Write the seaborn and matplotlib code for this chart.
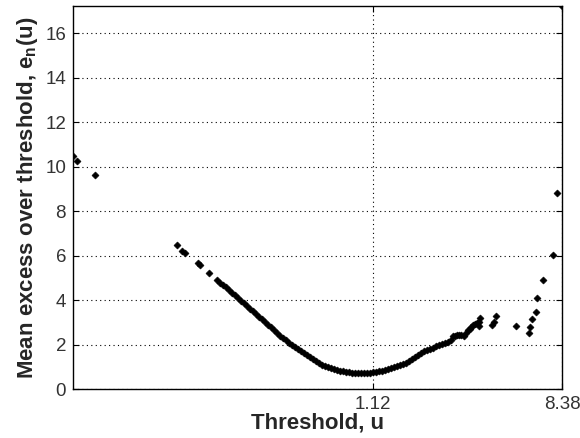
import matplotlib
matplotlib.use("Agg")
import matplotlib.pyplot as plt
import seaborn as sns
import pandas as pd

# Threshold values (u) and mean excess e_n(u)
threshold_left = [-10.404, -10.235, -9.570, -6.409, -6.202, -6.113, -5.602, -5.537, -5.180]
excess_left = [10.48, 10.27, 9.63, 6.48, 6.22, 6.13, 5.65, 5.58, 5.20]

threshold_body = [
    -4.88, -4.77, -4.65, -4.54, -4.42, -4.31, -4.19, -4.08, -3.96, -3.85,
    -3.73, -3.62, -3.50, -3.39, -3.27, -3.16, -3.04, -2.93, -2.81, -2.69,
    -2.58, -2.46, -2.35, -2.23, -2.12, -2.00, -1.89, -1.77, -1.66, -1.54,
    -1.43, -1.31, -1.20, -1.08, -0.97, -0.85, -0.74, -0.62, -0.505, -0.39,
    -0.275, -0.16, -0.044, 0.071, 0.186, 0.302, 0.417, 0.532, 0.647, 0.763,
    0.878, 0.993, 1.108, 1.223, 1.339, 1.454, 1.569, 1.684, 1.800, 1.915,
    2.030, 2.145, 2.261, 2.376, 2.491, 2.606, 2.722, 2.837, 2.952, 3.068,
    3.183, 3.298, 3.413, 3.529, 3.644, 3.759, 3.874, 3.990, 4.105,
]
excess_body = [
    4.90, 4.79, 4.68, 4.57, 4.46, 4.34, 4.22, 4.10, 3.98, 3.86,
    3.74, 3.62, 3.50, 3.38, 3.25, 3.13, 3.01, 2.89, 2.77, 2.65,
    2.52, 2.40, 2.29, 2.19, 2.08, 1.98, 1.89, 1.79, 1.70, 1.61,
    1.52, 1.43, 1.34, 1.26, 1.17, 1.10, 1.04, 0.98, 0.93, 0.89,
    0.85, 0.82, 0.79, 0.77, 0.75, 0.73, 0.72, 0.71, 0.71, 0.71,
    0.72, 0.73, 0.75, 0.77, 0.79, 0.82, 0.85, 0.89, 0.93, 0.98,
    1.02, 1.07, 1.13, 1.19, 1.26, 1.35, 1.45, 1.55, 1.63, 1.69,
    1.75, 1.80, 1.86, 1.92, 1.97, 2.02, 2.07, 2.12, 2.20,
]

threshold_tail = [
    4.193, 4.258, 4.335, 4.412, 4.516, 4.604, 4.708, 4.769, 4.835, 4.900,
    4.961, 5.027, 5.103, 5.192, 5.219, 5.192, 5.707, 5.756, 5.860, 6.601,
    7.112, 7.139, 7.228, 7.397, 7.435, 7.650, 8.023, 8.188, 8.380,
]
excess_tail = [
    2.38, 2.40, 2.43, 2.43, 2.43, 2.40, 2.53, 2.65, 2.72, 2.80,
    2.86, 2.92, 2.97, 3.03, 3.18, 2.83, 2.88, 3.03, 3.28, 2.83,
    2.53, 2.80, 3.13, 3.45, 4.11, 4.90, 6.03, 8.80, 17.23,
]

x_ticks = [1.12, 8.38]
x_tick_labels = ["1.12", "8.38"]
y_ticks = [0, 2, 4, 6, 8, 10, 12, 14, 16]

df = pd.DataFrame({
    "u": threshold_left + threshold_body + threshold_tail,
    "e": excess_left + excess_body + excess_tail,
})

sns.set_style("white")
plt.rcParams["font.family"] = ["Liberation Sans", "DejaVu Sans"]
plt.rcParams["mathtext.fontset"] = "custom"
plt.rcParams["mathtext.rm"] = "Liberation Sans"
plt.rcParams["mathtext.bf"] = "Liberation Sans:bold"

fig = plt.figure(figsize=(5.8, 4.38), dpi=100)
ax = fig.add_axes([73 / 580, 49 / 438, 489 / 580, 383 / 438])

sns.scatterplot(data=df, x="u", y="e", ax=ax, marker="D", s=13,
                color="black", edgecolor="black", linewidth=0.4, zorder=3)

ax.set_xlim(min(df["u"]), max(df["u"]))
ax.set_ylim(0, max(df["e"]))
ax.set_xticks(x_ticks)
ax.set_xticklabels(x_tick_labels)
ax.set_yticks(y_ticks)

ax.grid(True, color="black", linestyle=(0, (1, 3)), linewidth=0.8)
ax.set_axisbelow(True)
for s in ax.spines.values():
    s.set_color("black")
    s.set_linewidth(1.0)
    s.set_visible(True)

ax.tick_params(direction="in", length=4, width=0.8, colors="black",
               labelsize=13.5, labelcolor="#333333", top=True, right=True,
               bottom=True, left=True, pad=5)

ax.set_xlabel("Threshold, u", fontsize=16, fontweight="bold", labelpad=0)
ax.set_ylabel(r"Mean excess over threshold, e$_{\mathbf{n}}$(u)",
              fontsize=16, fontweight="bold", labelpad=4)

fig.savefig("out.png", dpi=100, facecolor="white")
